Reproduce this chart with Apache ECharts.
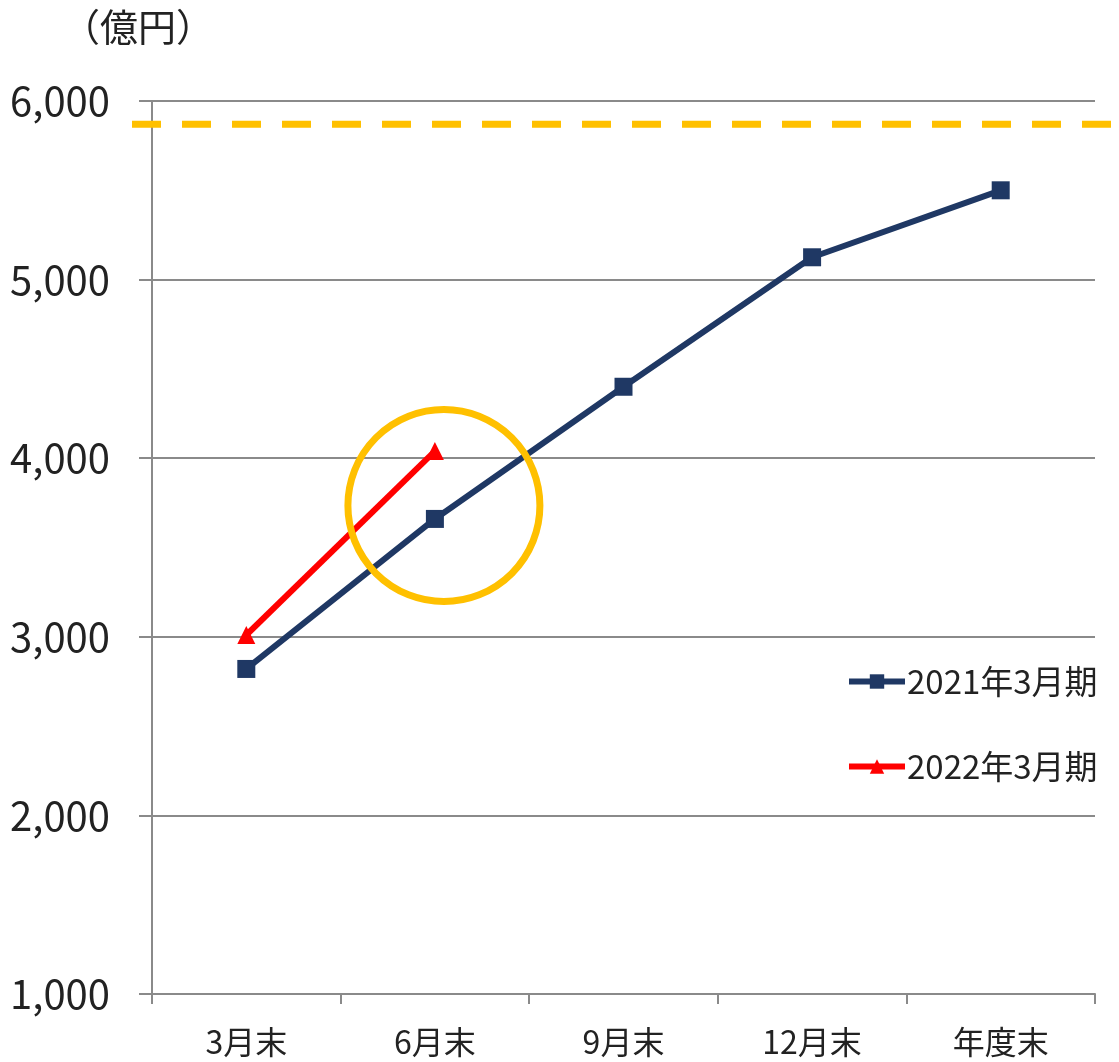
<!DOCTYPE html>
<html>
<head>
<meta charset="utf-8">
<script src="https://cdn.jsdelivr.net/npm/echarts@6/dist/echarts.min.js"></script>
<style>
html,body{margin:0;padding:0;background:#fff;}
#c{width:1119px;height:1062px;}
</style>
</head>
<body>
<div id="c"></div>
<script>
var categories = ['3月末', '6月末', '9月末', '12月末', '年度末'];
var seriesNames = ['2021年3月期', '2022年3月期'];
var values2021 = [2820, 3660, 4400, 5125, 5500];
var values2022 = [3010, 4040];
var yTicks = [1000, 2000, 3000, 4000, 5000, 6000];
var targetValue = 5870;
var circleCenter = [1, 3735];

var FONT = '"Noto Sans CJK JP", "Noto Sans", sans-serif';
var chart = echarts.init(document.getElementById('c'));
var titleGraphic = {
  type: 'text', left: 62, top: 8,
  style: {text: '（億円）', font: '38px ' + FONT, fill: '#222'}
};
chart.setOption({
  animation: false,
  backgroundColor: '#fff',
  textStyle: {fontFamily: FONT},
  grid: {left: 152, right: 24, top: 101, bottom: 68, containLabel: false},
  graphic: [titleGraphic],
  legend: {
    orient: 'vertical', left: 841, top: 660, itemGap: 52,
    itemWidth: 56, itemHeight: 18, itemGap: 52,
    lineStyle: {width: 6},
    textStyle: {fontSize: 33, color: '#222', fontFamily: FONT, padding: [0, 0, 0, -3]},
    data: seriesNames
  },
  xAxis: {
    type: 'category', data: categories, boundaryGap: true,
    axisLine: {lineStyle: {color: '#8a8a8a', width: 2}},
    axisTick: {show: true, length: 10, interval: 0, lineStyle: {color: '#8a8a8a', width: 2}},
    axisLabel: {fontSize: 32, color: '#222', margin: 32, fontFamily: FONT}
  },
  yAxis: {
    type: 'value', min: yTicks[0], max: yTicks[yTicks.length - 1], interval: 1000,
    axisLine: {show: true, lineStyle: {color: '#8a8a8a', width: 2}},
    axisTick: {show: true, length: 13, lineStyle: {color: '#8a8a8a', width: 2}},
    splitLine: {lineStyle: {color: '#8a8a8a', width: 2}},
    axisLabel: {
      fontSize: 40, color: '#222', margin: 42, fontFamily: FONT,
      formatter: function (v) { return v.toLocaleString('en-US'); }
    }
  },
  series: [{
    name: seriesNames[0], type: 'line', data: values2021,
    symbol: 'rect', symbolSize: 18,
    lineStyle: {color: '#1f3864', width: 6},
    itemStyle: {color: '#1f3864'}, z: 3
  }, {
    name: seriesNames[1], type: 'line', data: values2022,
    symbol: 'triangle', symbolSize: 18,
    lineStyle: {color: '#ff0000', width: 6},
    itemStyle: {color: '#ff0000'}, z: 4
  }]
});

var yTarget = chart.convertToPixel({yAxisIndex: 0}, targetValue);
var cc = chart.convertToPixel({gridIndex: 0}, circleCenter);
chart.setOption({
  graphic: [titleGraphic, {
    type: 'line', z: 10,
    shape: {x1: 132, y1: yTarget, x2: 1119, y2: yTarget},
    style: {stroke: '#ffc000', lineWidth: 7, lineDash: [29, 21]}
  }, {
    type: 'circle', z: 10,
    shape: {cx: cc[0] + 9, cy: cc[1], r: 96},
    style: {fill: 'none', stroke: '#ffc000', lineWidth: 7}
  }]
});
</script>
</body>
</html>
